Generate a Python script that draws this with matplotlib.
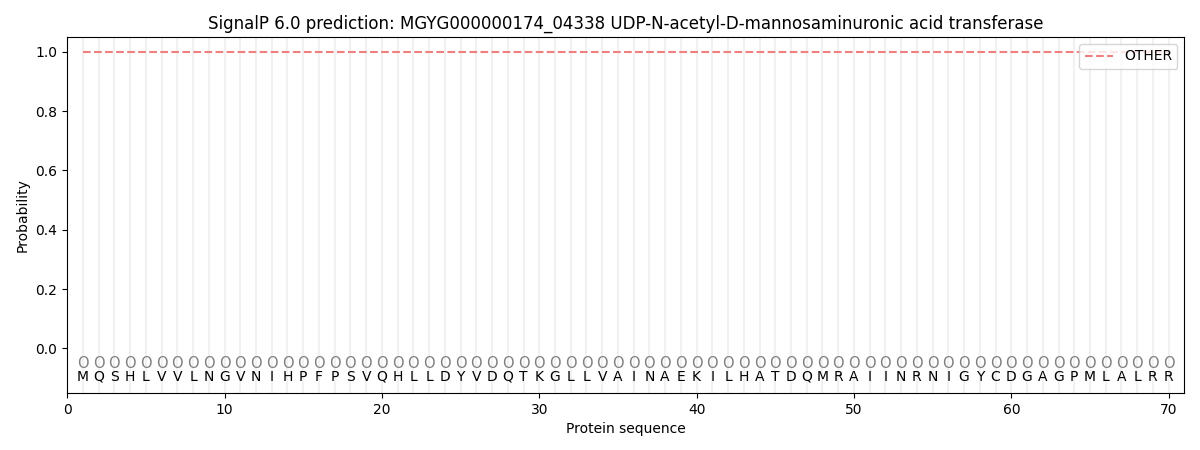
import numpy as np
import matplotlib
matplotlib.use('Agg')
import matplotlib.pyplot as plt

seq = list('MQSHLVVLNGVNIHPFPSVQHLLDYVDQTKGLLVAINAEKILHATDQMRAIINRNIGYCDGAGPMLALRR')
labels = ['O'] * len(seq)
positions = np.arange(1, len(seq) + 1)
other = [1.0] * len(seq)

fig, ax = plt.subplots(figsize=(12, 4.5), dpi=100)

for p in positions:
    ax.axvline(p, color='#e8e8e8', lw=1.5, alpha=0.6, zorder=0)

ax.plot(positions, other, '--', color='#f08080', lw=1.5, label='OTHER')

for p, aa, lab in zip(positions, seq, labels):
    ax.text(p, -0.05, lab, ha='center', va='center', color='grey', fontsize=10.5)
    ax.text(p, -0.095, aa, ha='center', va='center', color='black', fontsize=10)

ax.set_xlim(0, 71)
ax.set_ylim(-0.15, 1.05)
ax.set_xlabel('Protein sequence')
ax.set_ylabel('Probability')
ax.set_title('SignalP 6.0 prediction: MGYG000000174_04338 UDP-N-acetyl-D-mannosaminuronic acid transferase')
ax.legend(loc='upper right')

plt.subplots_adjust(left=0.056, right=0.987, top=0.918, bottom=0.127)
plt.savefig('out.png')
